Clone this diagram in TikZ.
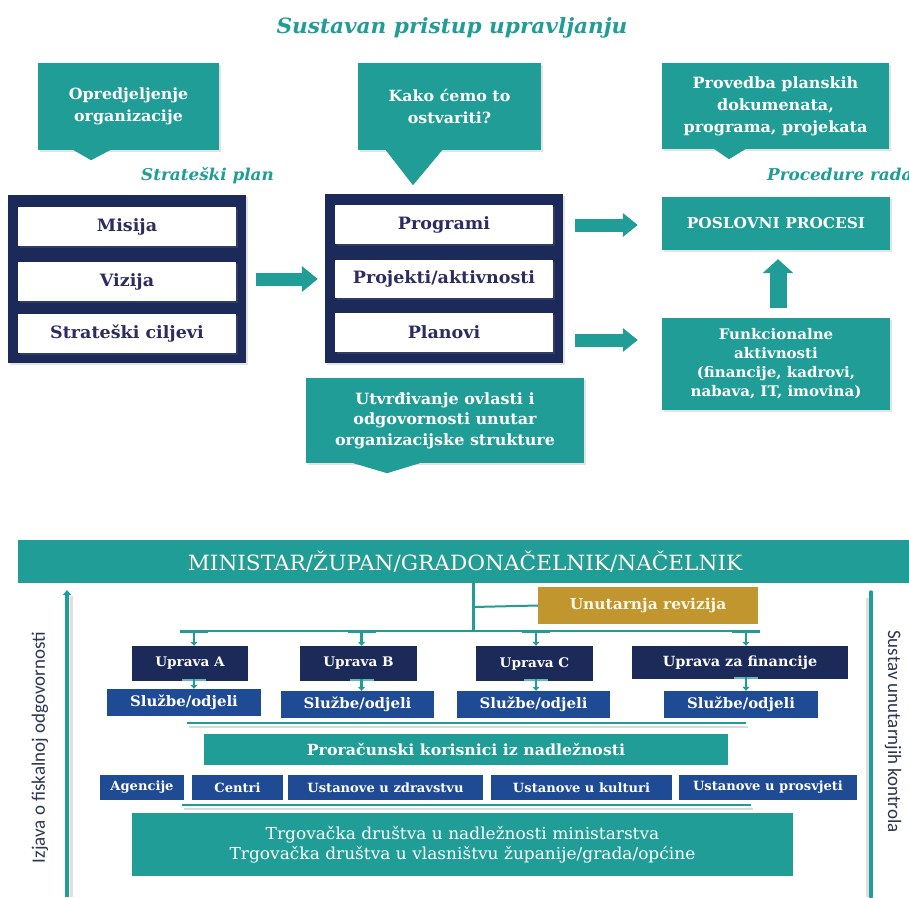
\documentclass[tikz,border=0pt]{standalone}
\usepackage{fontspec}
\setmainfont[FakeStretch=1.03]{DejaVu Serif}
\newfontfamily\calib{Carlito}
\usetikzlibrary{shadows,calc,arrows.meta}
\definecolor{tl}{HTML}{219D97}
\definecolor{nv}{HTML}{1C2A5A}
\definecolor{bl}{HTML}{1F4B94}
\definecolor{gd}{HTML}{C2962F}
\definecolor{tx}{HTML}{2C2C60}
\definecolor{lb}{HTML}{2E3652}
\definecolor{cr}{HTML}{FFF8E8}
\tikzset{
  sh/.style={drop shadow={opacity=0.22,shadow xshift=1.5pt,shadow yshift=-2pt}},
  tealbox/.style={fill=tl, text=white, inner sep=0pt, align=center, sh},
  navybox/.style={fill=nv, inner sep=0pt, sh},
  whitebox/.style={fill=white, text=tx, inner sep=0pt, font=\fontsize{17}{19}\selectfont\bfseries, sh},
  uprava/.style={fill=nv, text=white, inner sep=0pt, font=\fontsize{13.2}{15}\selectfont\bfseries},
  sluzbe/.style={fill=bl, text=white, inner sep=0pt, font=\fontsize{14.5}{16}\selectfont\bfseries},
  smallbox/.style={fill=bl, text=white, inner sep=0pt, font=\fontsize{12.7}{14}\selectfont\bfseries},
  barrow/.style n args={3}{draw=tl, line width=#1, -{Triangle[length=#2,width=#3]}},
  conn/.style={draw=tl, line width=2pt},
  tbar/.style={draw=tl, line width=3pt},
  tarrow/.style={draw=tl, line width=2.5pt, -{Triangle[length=4pt,width=7pt]}},
  tealtext/.style={text=tl, font=\fontsize{16.3}{18}\selectfont\bfseries\itshape, inner sep=0pt},
  sidelabel/.style={text=lb, font=\calib\fontsize{19}{21}\selectfont, inner sep=0pt},
}
\begin{document}
\begin{tikzpicture}[x=1pt,y=-1pt]
\useasboundingbox (0,0) rectangle (909,897);
\fill[white] (0,0) rectangle (909,897);

% ---------- top part ----------
\node[text=tl, font=\fontsize{21}{24}\selectfont\bfseries\itshape, inner sep=0pt] (title) at (452,28) {Sustavan pristup upravljanju};

\node[tealbox, minimum width=181pt, minimum height=87pt, font=\fontsize{15.4}{22}\selectfont\bfseries] (c1) at (128.5,106.5) {Opredjeljenje\\organizacije};
\fill[tl] ($(c1.south)+(-56.5,-1)$) -- ($(c1.south)+(-16.5,-1)$) -- ($(c1.south)+(-37.5,10)$) -- cycle;

\node[tealbox, minimum width=183pt, minimum height=87pt, font=\fontsize{15.4}{22}\selectfont\bfseries] (c2) at (449.5,106.5) {Kako ćemo to\\ostvariti?};
\fill[tl] ($(c2.south)+(-64.5,-1)$) -- ($(c2.south)+(-6.5,-1)$) -- ($(c2.south)+(-36.5,35)$) -- cycle;

\node[tealbox, minimum width=227pt, minimum height=86pt, font=\fontsize{15.5}{22}\selectfont\bfseries] (c3) at (775.5,106) {Provedba planskih\\dokumenata,\\programa, projekata};
\fill[tl] ($(c3.south)+(-62.5,-1)$) -- ($(c3.south)+(-28.5,-1)$) -- ($(c3.south)+(-46.5,10)$) -- cycle;

\node[tealtext] (sp) at (207.5,176) {Strateški plan};
\node[tealtext, anchor=west] (pr) at (767,174) {Procedure rada};

\node[navybox, minimum width=238pt, minimum height=168pt] (leftbox) at (127,279) {};
\node[whitebox, minimum width=218pt, minimum height=39pt] (misija) at (127,226.5) {Misija};
\node[whitebox, minimum width=218pt, minimum height=39pt] (vizija) at (127,281.5) {Vizija};
\node[whitebox, minimum width=218pt, minimum height=39pt] (ciljevi) at (127,333.5) {Strateški ciljevi};

\node[navybox, minimum width=238pt, minimum height=169pt] (midbox) at (444,278.5) {};
\node[whitebox, minimum width=218pt, minimum height=39pt] (programi) at (444,224.5) {Programi};
\node[whitebox, minimum width=218pt, minimum height=38pt] (projekti) at (444,279) {Projekti/aktivnosti};
\node[whitebox, minimum width=218pt, minimum height=39pt] (planovi) at (444,332.5) {Planovi};

\node[tealbox, minimum width=278pt, minimum height=85pt, font=\fontsize{15.5}{20.5}\selectfont\bfseries] (c4) at (445,420.5) {Utvrđivanje ovlasti i\\odgovornosti unutar\\organizacijske strukture};
\fill[tl] ($(c4.south)+(-95,-1)$) -- ($(c4.south)+(-22,-1)$) -- ($(c4.south)+(-58,10)$) -- cycle;

\node[tealbox, minimum width=228pt, minimum height=53pt, font=\fontsize{14.9}{17}\selectfont\bfseries] (posl) at (776,223.5) {POSLOVNI PROCESI};
\node[tealbox, minimum width=228pt, minimum height=92pt, font=\fontsize{14.6}{19}\selectfont\bfseries] (funk) at (776,364) {Funkcionalne\\aktivnosti\\(financije, kadrovi,\\nabava, IT, imovina)};

\draw[barrow={13pt}{16pt}{25pt}] ($(leftbox.east)+(10,0)$) -- ($(leftbox.east -| midbox.west)+(-7,0)$);
\draw[barrow={13pt}{15pt}{23pt}] ($(midbox.east |- programi.east)+(12,0.5)$) -- ($(posl.west |- programi.east)+(-24,0.5)$);
\draw[barrow={13pt}{15pt}{23pt}] ($(midbox.east |- planovi.east)+(12,7.5)$) -- ($(funk.west |- planovi.east)+(-24,7.5)$);
\draw[barrow={17pt}{14pt}{30pt}] ($(funk.north)+(2,-10)$) -- ($(funk.north |- posl.south)+(2,9)$);

% ---------- bottom part ----------
\node[fill=tl, text=cr, inner sep=0pt, minimum width=894pt, minimum height=43pt, font=\fontsize{21}{23}\selectfont] (minister) at (465,561.5) {MINISTAR/ŽUPAN/GRADONAČELNIK/NAČELNIK};

\node[fill=gd, text=cr, inner sep=0pt, minimum width=220pt, minimum height=37pt, font=\fontsize{15}{17}\selectfont\bfseries] (revizija) at (648,605.5) {Unutarnja revizija};

\node[uprava, minimum width=116pt, minimum height=35pt] (upravaA) at (190,663.5) {Uprava A};
\node[uprava, minimum width=117pt, minimum height=35pt] (upravaB) at (358.5,663.5) {Uprava B};
\node[uprava, minimum width=117pt, minimum height=35pt] (upravaC) at (534.5,663.5) {Uprava C};
\node[uprava, minimum width=216pt, minimum height=33pt, font=\fontsize{14}{16}\selectfont\bfseries] (upravaF) at (740,662.5) {Uprava za financije};

\node[sluzbe, minimum width=154pt, minimum height=27pt] (sluzbeA) at (184,702.5) {Službe/odjeli};
\node[sluzbe, minimum width=153pt, minimum height=27pt] (sluzbeB) at (357.5,704.5) {Službe/odjeli};
\node[sluzbe, minimum width=153pt, minimum height=27pt] (sluzbeC) at (533.5,704.5) {Službe/odjeli};
\node[sluzbe, minimum width=154pt, minimum height=27pt] (sluzbeF) at (741,704.5) {Službe/odjeli};

\node[fill=tl, text=white, inner sep=0pt, minimum width=524pt, minimum height=31pt, font=\fontsize{15.3}{17}\selectfont\bfseries] (proracun) at (466,749.5) {Proračunski korisnici iz nadležnosti};

\node[smallbox, minimum width=84pt, minimum height=25pt] (agencije) at (142,787.5) {Agencije};
\node[smallbox, minimum width=91pt, minimum height=25pt] (centri) at (237.5,787.5) {Centri};
\node[smallbox, minimum width=195pt, minimum height=25pt] (zdrav) at (385.5,787.5) {Ustanove u zdravstvu};
\node[smallbox, minimum width=181pt, minimum height=25pt] (kultura) at (581.5,787.5) {Ustanove u kulturi};
\node[smallbox, minimum width=178pt, minimum height=25pt] (prosvjeta) at (768,787.5) {Ustanove u prosvjeti};

\node[fill=tl, text=white, inner sep=0pt, align=center, minimum width=661pt, minimum height=63pt, font=\fontsize{16.5}{20}\selectfont] (trgov) at (462.5,844.5) {Trgovačka društva u nadležnosti ministarstva\\Trgovačka društva u vlasništvu županije/grada/općine};

% tree connectors
\coordinate (jx) at (473,631);
\coordinate (jr) at (473,607);
\coordinate (busL) at (182,631);
\coordinate (busR) at (758,631);
\draw[tl, line width=3pt] (jx |- minister.south) -- (jx);
\draw[conn] (jr) -- (revizija.west);
\draw[conn] (busL) -- (busR);

\coordinate (tA) at ($(upravaA.north)+(4,0)$);
\coordinate (tB) at ($(upravaB.north)+(3,0)$);
\coordinate (tC) at ($(upravaC.north)+(1.5,0)$);
\coordinate (tF) at ($(upravaF.north)+(6,0)$);
\foreach \t/\u/\s in {tA/upravaA/sluzbeA, tB/upravaB/sluzbeB, tC/upravaC/sluzbeC, tF/upravaF/sluzbeF}{
  \draw[tbar] ($(\t |- busL)+(-14,0)$) -- ($(\t |- busL)+(14,0)$);
  \draw[tarrow] (\t |- busL) -- (\t);
  \draw[tl!70!white, line width=1.5pt] ($(\t |- \u.south)+(-12,-1)$) -- ($(\t |- \u.south)+(12,-1)$);
  \draw[tarrow] ($(\t |- \u.south)+(0,-2)$) -- (\t |- \s.north);
}

% separator lines
\coordinate (l1a) at (187,723);
\coordinate (l1b) at (746,723);
\coordinate (l2a) at (182,805);
\coordinate (l2b) at (751,805);
\draw[gray!30, line width=2pt] ($(l1a)+(2,4)$) -- ($(l1b)+(2,4)$);
\draw[tl, line width=2.5pt] (l1a) -- (l1b);
\draw[gray!30, line width=2pt] ($(l2a)+(2,4)$) -- ($(l2b)+(2,4)$);
\draw[tl, line width=2.5pt] (l2a) -- (l2b);

% side arrows and labels
\coordinate (la0) at (67,897);
\coordinate (la1) at (67,590);
\coordinate (ra0) at (871,897);
\coordinate (ra1) at (871,592);
\draw[gray!25, line width=3pt] ($(la0)+(4,0)$) -- ($(la1)+(4,6)$);
\draw[tl, line width=3.5pt, -{Triangle[length=5pt,width=8pt]}] (la0) -- (la1);
\draw[gray!25, line width=3pt] ($(ra0)+(-4,0)$) -- ($(ra1)+(-4,6)$);
\draw[tl, line width=3.5pt, line cap=round] (ra0) -- (ra1);

\node[sidelabel, rotate=90] (izjava) at (40,747.5) {Izjava o fiskalnoj odgovornosti};
\node[sidelabel, rotate=-90] (sustav) at (893,731.5) {Sustav unutarnjih kontrola};
\end{tikzpicture}
\end{document}
